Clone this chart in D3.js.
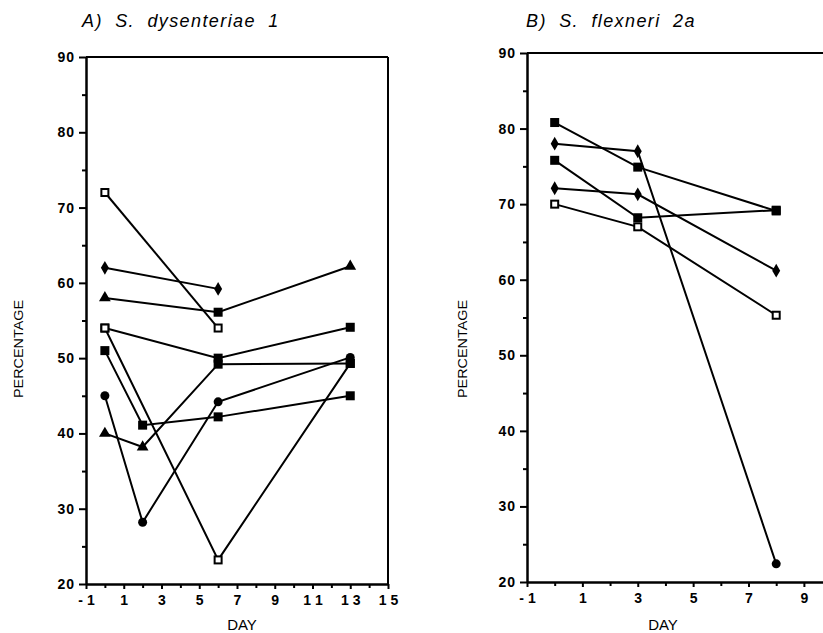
<!DOCTYPE html>
<html>
<head>
<meta charset="utf-8">
<script src="https://cdn.jsdelivr.net/npm/d3@7"></script>
<style>
  body { margin: 0; background: #fff; }
  svg { display: block; font-family: "Liberation Sans", Arial, sans-serif; }
  text { fill: #000; }
  .tick text { font-weight: bold; fill: #000; }
</style>
</head>
<body>
<svg id="chart" width="823" height="633"></svg>
<script>
// values

// panel A - S. dysenteriae 1
const titleA = "A) S. dysenteriae 1";
const seriesA = [
  { days: [0, 6], values: [72, 54], marks: ["open", "open"] },
  { days: [0, 6], values: [62, 59.2], marks: ["diamond", "diamond"] },
  { days: [0, 6, 13], values: [58, 56.1, 62.2], marks: ["triangle", "square", "triangle"] },
  { days: [0, 6, 13], values: [54, 50, 54.1], marks: ["open", "square", "square"] },
  { days: [0, 6, 13], values: [54, 23.2, 49.3], marks: ["open", "open", "square"] },
  { days: [0, 2, 6, 13], values: [51, 41.1, 42.2, 45], marks: ["square", "square", "square", "square"] },
  { days: [0, 2, 6, 13], values: [45, 28.2, 44.2, 50.1], marks: ["circle", "circle", "circle", "circle"] },
  { days: [0, 2, 6, 13], values: [40, 38.2, 49.2, 49.3], marks: ["triangle", "triangle", "square", "square"] }
];
const xTicksA = [-1, 1, 3, 5, 7, 9, 11, 13, 15];
const xMinorA = [0, 2, 4, 6, 8, 10, 12, 14];

// panel B - S. flexneri 2a
const titleB = "B) S. flexneri 2a";
const seriesB = [
  { days: [0, 3, 8], values: [80.8, 74.9, 69.1], marks: ["square", "square", "square"] },
  { days: [0, 3, 8], values: [78, 77, 22.4], marks: ["diamond", "diamond", "circle"] },
  { days: [0, 3, 8], values: [75.8, 68.2, 69.2], marks: ["square", "square", "square"] },
  { days: [0, 3, 8], values: [72.1, 71.3, 61.2], marks: ["diamond", "diamond", "diamond"] },
  { days: [0, 3, 8], values: [70, 67, 55.3], marks: ["open", "open", "open"] }
];
const xTicksB = [-1, 1, 3, 5, 7, 9];
const xMinorB = [0, 2, 4, 6, 8];

const yTicks = [20, 30, 40, 50, 60, 70, 80, 90];
const yMinor = [25, 35, 45, 55, 65, 75, 85];

const svg = d3.select("#chart");

function tickLabel(d) {
  // the print spaces out the digits
  return d < 0 ? "- " + Math.abs(d) : String(d).split("").join(" ");
}

function drawMark(g, kind, cx, cy) {
  if (kind == "square") {
    g.append("rect").attr("x", cx - 4.5).attr("y", cy - 4.5)
      .attr("width", 9).attr("height", 9).attr("fill", "#000");
  } else if (kind == "open") {
    g.append("rect").attr("x", cx - 3.5).attr("y", cy - 3.5)
      .attr("width", 7).attr("height", 7)
      .attr("fill", "#fff").attr("stroke", "#000").attr("stroke-width", 2);
  } else if (kind == "circle") {
    g.append("circle").attr("cx", cx).attr("cy", cy).attr("r", 4.5).attr("fill", "#000");
  } else {
    let type = kind == "diamond" ? d3.symbolDiamond : d3.symbolTriangle;
    g.append("path")
      .attr("d", d3.symbol().type(type).size(kind == "diamond" ? 55 : 60)())
      .attr("transform", "translate(" + cx + "," + cy + ")")
      .attr("fill", "#000");
  }
}

function drawPanel(p) {
  let x = d3.scaleLinear().domain(p.xDomain).range([p.left, p.right]);
  let y = d3.scaleLinear().domain([20, 90]).range([p.bottom, p.top]);
  let g = svg.append("g");

  // frame: top line (and right edge for panel A)
  g.append("line").attr("x1", p.left).attr("x2", p.right)
    .attr("y1", p.top).attr("y2", p.top)
    .attr("stroke", "#000").attr("stroke-width", 2);
  if (p.rightBorder) {
    g.append("line").attr("x1", p.right).attr("x2", p.right)
      .attr("y1", p.top).attr("y2", p.bottom)
      .attr("stroke", "#000").attr("stroke-width", 2);
  }

  // axes
  let xAxis = g.append("g").attr("transform", "translate(0," + p.bottom + ")")
    .call(d3.axisBottom(x).tickValues(p.xTicks).tickSize(5).tickSizeOuter(0)
      .tickPadding(6).tickFormat(tickLabel));
  g.append("g").attr("transform", "translate(0," + p.bottom + ")")
    .call(d3.axisBottom(x).tickValues(p.xMinor).tickSize(4).tickFormat(""))
    .select(".domain").remove();
  let yAxis = g.append("g").attr("transform", "translate(" + p.left + ",0)")
    .call(d3.axisLeft(y).tickValues(yTicks).tickSize(7).tickSizeOuter(0).tickPadding(4));
  g.append("g").attr("transform", "translate(" + p.left + ",0)")
    .call(d3.axisLeft(y).tickValues(yMinor).tickSize(4).tickFormat(""))
    .select(".domain").remove();

  g.selectAll(".domain").attr("stroke-width", 2.5);
  g.selectAll(".tick line").attr("stroke-width", 2);
  xAxis.selectAll("text").attr("font-size", 14);
  yAxis.selectAll("text").attr("font-size", 14).attr("letter-spacing", 1);

  // series lines
  let line = d3.line().x(d => x(d[0])).y(d => y(d[1]));
  p.series.forEach(function(s) {
    let pts = s.days.map((d, i) => [d, s.values[i]]);
    g.append("path").datum(pts).attr("d", line)
      .attr("fill", "none").attr("stroke", "#000").attr("stroke-width", 2);
  });
  // markers on top
  p.series.forEach(function(s) {
    s.days.forEach(function(d, i) {
      drawMark(g, s.marks[i], x(d), y(s.values[i]));
    });
  });

  // texts
  g.append("text").attr("x", p.titleX).attr("y", 27)
    .attr("font-size", 18).attr("font-style", "italic")
    .attr("letter-spacing", 1.4).attr("word-spacing", 6)
    .text(p.title);
  g.append("text")
    .attr("transform", "translate(" + p.yLabelX + ",349) rotate(-90)")
    .attr("text-anchor", "middle").attr("font-size", 13)
    .attr("textLength", 98).attr("lengthAdjust", "spacingAndGlyphs")
    .text("PERCENTAGE");
  g.append("text").attr("x", p.dayX).attr("y", 630)
    .attr("text-anchor", "middle").attr("font-size", 15)
    .text("DAY");
}

drawPanel({
  title: titleA, titleX: 82, series: seriesA,
  xDomain: [-1, 15], xTicks: xTicksA, xMinor: xMinorA,
  left: 86, right: 388, top: 57, bottom: 584,
  rightBorder: true, yLabelX: 23, dayX: 242
});

drawPanel({
  title: titleB, titleX: 526, series: seriesB,
  xDomain: [-1, 9.69], xTicks: xTicksB, xMinor: xMinorB,
  left: 527, right: 823, top: 53, bottom: 582,
  rightBorder: false, yLabelX: 467, dayX: 663
});
</script>
</body>
</html>
